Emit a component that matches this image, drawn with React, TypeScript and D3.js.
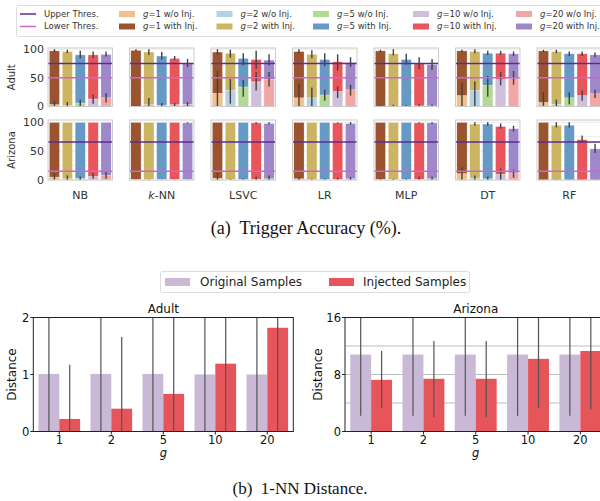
import * as d3 from "d3";

// categories
const models = ["NB", "k-NN", "LSVC", "LR", "MLP", "DT", "RF"];
const gValues = ["1", "2", "5", "10", "20"];

// Trigger accuracy (%) — Adult, with injection
const adultWith = [
  [97, 96, 90, 90, 91],
  [98, 95, 88, 84, 76],
  [95, 93, 84, 82, 81],
  [96, 91, 82, 78, 77],
  [97, 92, 82, 75, 73],
  [97, 96, 93, 93, 92],
  [97, 96, 92, 92, 90],
];
const adultWithLo = [
  [95, 93, 84, 84, 87],
  [96, 90, 82, 81, 69],
  [90, 85, 72, 66, 72],
  [93, 84, 70, 63, 69],
  [95, 89, 73, 65, 64],
  [95, 93, 90, 90, 88],
  [95, 93, 88, 88, 86],
];
const adultWithHi = [
  [100, 99, 97, 96, 96],
  [100, 100, 95, 88, 83],
  [100, 99, 93, 97, 91],
  [100, 98, 93, 91, 86],
  [99, 100, 92, 86, 83],
  [99, 100, 97, 97, 96],
  [99, 99, 96, 96, 94],
];
// Adult, without injection
const adultWo = [
  [3, 2, 6, 13, 15],
  [0.5, 3, 2, 3, 4],
  [23, 28, 34, 43, 47],
  [15, 15, 20, 26, 29],
  [0.5, 0.5, 0.5, 1, 1],
  [19, 28, 37, 47, 50],
  [7, 4, 15, 19, 22],
];
const adultWoLo = [
  [0, 0, 0, 5, 7],
  [0, 0, 0, 0, 0],
  [0, 5, 17, 28, 35],
  [0, 0, 10, 15, 19],
  [0, 0, 0, 0, 0],
  [0, 1, 17, 37, 38],
  [0, 0, 4, 10, 15],
];
const adultWoHi = [
  [10, 8, 12, 21, 23],
  [2, 15, 6, 6, 8],
  [62, 48, 46, 60, 60],
  [40, 33, 29, 35, 38],
  [2, 3, 2, 4, 3],
  [41, 44, 53, 60, 62],
  [25, 12, 25, 28, 29],
];

// Arizona, with injection
const arizonaWith = [
  [100, 100, 100, 100, 100],
  [100, 100, 100, 100, 99],
  [100, 100, 100, 99, 98],
  [100, 100, 100, 99, 98],
  [100, 100, 100, 99, 99],
  [100, 97, 97, 93, 89],
  [100, 95, 95, 70, 54],
];
const arizonaWithLo = [
  [100, 100, 100, 100, 100],
  [100, 100, 100, 100, 98],
  [100, 100, 100, 97, 96],
  [100, 100, 100, 98, 96],
  [100, 100, 100, 98, 97],
  [100, 94, 94, 89, 84],
  [100, 91, 91, 65, 47],
];
const arizonaWithHi = [
  [100, 100, 100, 100, 100],
  [100, 100, 100, 100, 100],
  [100, 100, 100, 100, 100],
  [100, 100, 100, 100, 100],
  [100, 100, 100, 100, 100],
  [100, 100, 100, 98, 94],
  [100, 100, 100, 77, 63],
];
// Arizona, without injection
const arizonaWo = [
  [5, 2, 3, 6, 8],
  [0.5, 0.5, 0.5, 0.5, 0.5],
  [3, 0.5, 0.5, 1, 2],
  [2, 0.5, 0.5, 1, 2],
  [0.5, 0.5, 0.5, 1, 2],
  [11, 3, 2, 10, 12],
  [0, 0, 0, 0, 0],
];
const arizonaWoLo = [
  [0, 0, 0, 2, 2],
  [0, 0, 0, 0, 0],
  [0, 0, 0, 0, 0],
  [0, 0, 0, 0, 0],
  [0, 0, 0, 0, 0],
  [0, 0, 0, 0, 4],
  [0, 0, 0, 0, 0],
];
const arizonaWoHi = [
  [12, 8, 6, 12, 14],
  [1, 1, 1, 1, 1],
  [12, 2, 2, 6, 8],
  [5, 2, 2, 4, 5],
  [2, 2, 2, 6, 6],
  [22, 8, 6, 20, 18],
  [1, 1, 1, 1, 1],
];

const adultThres = [75, 50];
const arizonaThres = [66, 15];

// 1-NN distance
const adultOrig = [1.01, 1.01, 1.01, 1.0, 1.0];
const adultOrigLo = [0, 0, 0, 0, 0];
const adultOrigHi = [3, 3, 3, 3, 3];
const adultInj = [0.22, 0.4, 0.66, 1.19, 1.82];
const adultInjLo = [0, 0, 0, 0, 0];
const adultInjHi = [1.17, 1.66, 3, 3, 3];

const arizonaOrig = [10.8, 10.8, 10.8, 10.8, 10.8];
const arizonaOrigLo = [2.2, 2.2, 2.2, 2.2, 2.2];
const arizonaOrigHi = [20, 20, 20, 20, 20];
const arizonaInj = [7.25, 7.4, 7.4, 10.2, 11.3];
const arizonaInjLo = [3.3, 2.0, 2.0, 3.3, 3.1];
const arizonaInjHi = [11.3, 12.7, 12.7, 20, 20];

const withColors = ["#9c5430", "#cbb462", "#6699c4", "#e8555a", "#9e88c9"];
const woColors = ["#f1c18c", "#b4d2e4", "#b3da93", "#cfbfdb", "#f2a7a7"];
const upperColor = "#5b2c92";
const lowerColor = "#cc66cc";
const origColor = "#c9b8d6";
const injColor = "#e6555a";

const sans = "DejaVu Sans";
const serif = "Liberation Serif";

const panelX0 = 48;
const panelStep = 81.5;
const panelW = 64.5;

type RowProps = {
  label: string;
  y: d3.ScaleLinear<number, number>;
  w: number[][];
  wLo: number[][];
  wHi: number[][];
  o: number[][];
  oLo: number[][];
  oHi: number[][];
  thres: number[];
  showModels: boolean;
};

const AccRow = ({ label, y, w, wLo, wHi, o, oLo, oHi, thres, showModels }: RowProps) => {
  const [y0, y1] = y.range();
  return (
    <g>
      <text
        transform={`translate(15,${(y0 + y1) / 2}) rotate(-90)`}
        textAnchor="middle"
        fontSize={10}
        fontFamily={sans}
        fill="#333"
      >
        {label}
      </text>
      {[0, 50, 100].map((t) => (
        <text key={t} x={44} y={y(t)} dy="0.35em" textAnchor="end" fontSize={11} fontFamily={sans} fill="#333">
          {t}
        </text>
      ))}
      {models.map((m, mi) => {
        const px = panelX0 + mi * panelStep;
        const x = d3.scaleBand<string>().domain(gValues).range([px, px + panelW]).paddingInner(0.2).paddingOuter(0.1);
        const bw = x.bandwidth();
        return (
          <g key={m}>
            {[0, 25, 50, 75, 100].map((t) => (
              <line key={t} x1={px} x2={px + panelW} y1={y(t)} y2={y(t)} stroke="#e4e4e4" strokeWidth={0.8} />
            ))}
            {gValues.map((g, gi) => (
              <rect
                key={"w" + g}
                x={x(g)}
                y={y(w[mi][gi])}
                width={bw}
                height={y(0) - y(w[mi][gi])}
                fill={withColors[gi]}
                stroke="#fff"
                strokeWidth={0.4}
              />
            ))}
            {gValues.map((g, gi) => (
              <line
                key={"we" + g}
                x1={x(g)! + bw / 2}
                x2={x(g)! + bw / 2}
                y1={y(wLo[mi][gi])}
                y2={y(wHi[mi][gi])}
                stroke="#424242"
                strokeWidth={1.4}
              />
            ))}
            {gValues.map((g, gi) => (
              <rect
                key={"o" + g}
                x={x(g)}
                y={y(o[mi][gi])}
                width={bw}
                height={y(0) - y(o[mi][gi])}
                fill={woColors[gi]}
                stroke="#fff"
                strokeWidth={0.4}
              />
            ))}
            {gValues.map((g, gi) => (
              <line
                key={"oe" + g}
                x1={x(g)! + bw / 2}
                x2={x(g)! + bw / 2}
                y1={y(oLo[mi][gi])}
                y2={y(oHi[mi][gi])}
                stroke="#424242"
                strokeWidth={1.4}
              />
            ))}
            <line x1={px} x2={px + panelW} y1={y(thres[0])} y2={y(thres[0])} stroke={upperColor} strokeWidth={1.5} />
            <line x1={px} x2={px + panelW} y1={y(thres[1])} y2={y(thres[1])} stroke={lowerColor} strokeWidth={1.5} />
            <rect x={px} y={y1} width={panelW} height={y0 - y1} fill="none" stroke="#cccccc" strokeWidth={1} />
            {showModels && (
              <text x={px + panelW / 2} y={y0 + 15} dy="0.35em" textAnchor="middle" fontSize={11} fontFamily={sans} fill="#333">
                {m === "k-NN" ? (
                  <>
                    <tspan fontStyle="italic">k</tspan>-NN
                  </>
                ) : (
                  m
                )}
              </text>
            )}
          </g>
        );
      })}
    </g>
  );
};

type DistProps = {
  id: string;
  title: string;
  left: number;
  right: number;
  yMax: number;
  ticks: number[];
  grid: number[];
  orig: number[];
  origLo: number[];
  origHi: number[];
  inj: number[];
  injLo: number[];
  injHi: number[];
  labelX: number;
};

const DistPanel = (p: DistProps) => {
  const top = 317.5;
  const bottom = 431.5;
  const x = d3.scaleBand<string>().domain(gValues).range([p.left, p.right]).paddingInner(0.2).paddingOuter(0.1);
  const sub = d3.scaleBand<string>().domain(["orig", "inj"]).range([0, x.bandwidth()]);
  const y = d3.scaleLinear().domain([0, p.yMax]).range([bottom, top]);
  const bw = sub.bandwidth();
  return (
    <g>
      <defs>
        <clipPath id={p.id}>
          <rect x={p.left} y={top} width={p.right - p.left} height={bottom - top} />
        </clipPath>
      </defs>
      <text x={(p.left + p.right) / 2} y={top - 5} textAnchor="middle" fontSize={12} fontFamily={sans} fill="#111">
        {p.title}
      </text>
      {p.grid.map((t) => (
        <line key={t} x1={p.left} x2={p.right} y1={y(t)} y2={y(t)} stroke="#bdbdbd" strokeWidth={1} />
      ))}
      <g clipPath={`url(#${p.id})`}>
        {gValues.map((g, i) => (
          <g key={g}>
            <rect x={x(g)! + sub("orig")!} y={y(p.orig[i])} width={bw} height={bottom - y(p.orig[i])} fill={origColor} />
            <rect x={x(g)! + sub("inj")!} y={y(p.inj[i])} width={bw} height={bottom - y(p.inj[i])} fill={injColor} />
            <line
              x1={x(g)! + sub("orig")! + bw / 2}
              x2={x(g)! + sub("orig")! + bw / 2}
              y1={y(p.origLo[i])}
              y2={y(p.origHi[i])}
              stroke="#555"
              strokeWidth={1.2}
            />
            <line
              x1={x(g)! + sub("inj")! + bw / 2}
              x2={x(g)! + sub("inj")! + bw / 2}
              y1={y(p.injLo[i])}
              y2={y(p.injHi[i])}
              stroke="#555"
              strokeWidth={1.2}
            />
          </g>
        ))}
      </g>
      <rect x={p.left} y={top} width={p.right - p.left} height={bottom - top} fill="none" stroke="#222" strokeWidth={1} />
      {p.ticks.map((t) => (
        <g key={t}>
          <line x1={p.left - 3} x2={p.left} y1={y(t)} y2={y(t)} stroke="#222" />
          <text x={p.left - 4} y={y(t)} dy="0.35em" textAnchor="end" fontSize={11.5} fontFamily={sans} fill="#111">
            {t}
          </text>
        </g>
      ))}
      {gValues.map((g) => (
        <g key={g}>
          <line x1={x(g)! + x.bandwidth() / 2} x2={x(g)! + x.bandwidth() / 2} y1={bottom} y2={bottom + 3} stroke="#222" />
          <text x={x(g)! + x.bandwidth() / 2} y={bottom + 12.5} textAnchor="middle" fontSize={11.5} fontFamily={sans} fill="#111">
            {g}
          </text>
        </g>
      ))}
      <text x={(p.left + p.right) / 2} y={bottom + 25} textAnchor="middle" fontSize={11.5} fontStyle="italic" fontFamily={sans} fill="#111">
        g
      </text>
      <text
        transform={`translate(${p.labelX},${(top + bottom) / 2}) rotate(-90)`}
        textAnchor="middle"
        dy="0.35em"
        fontSize={12}
        fontFamily={sans}
        fill="#111"
      >
        Distance
      </text>
    </g>
  );
};

const legendCols = [20, 119, 216.5, 313, 413, 516];

const TopLegend = () => {
  const rows = [14, 26.5];
  const item = (col: number, row: number, color: string, isLine: boolean, content: any, key: string) => (
    <g key={key}>
      {isLine ? (
        <line x1={legendCols[col]} x2={legendCols[col] + 16} y1={rows[row]} y2={rows[row]} stroke={color} strokeWidth={1.5} />
      ) : (
        <rect x={legendCols[col]} y={rows[row] - 3} width={16} height={6} fill={color} />
      )}
      <text x={legendCols[col] + 24} y={rows[row]} dy="0.35em" fontSize={8.5} fontFamily={sans} fill="#333">
        {content}
      </text>
    </g>
  );
  const gLabel = (g: string, kind: string) => (
    <>
      <tspan fontStyle="italic">g</tspan>={g} {kind}
    </>
  );
  return (
    <g>
      <rect x={16.5} y={5.5} width={600} height={31} rx={2} fill="#fff" stroke="#dcdcdc" strokeWidth={1} />
      {item(0, 0, upperColor, true, "Upper Thres.", "u")}
      {item(0, 1, lowerColor, true, "Lower Thres.", "l")}
      {gValues.map((g, i) => item(i + 1, 0, woColors[i], false, gLabel(g, "w/o Inj."), "o" + g))}
      {gValues.map((g, i) => item(i + 1, 1, withColors[i], false, gLabel(g, "with Inj."), "w" + g))}
    </g>
  );
};

const BottomLegend = () => (
  <g>
    <rect x={160.5} y={271.5} width={309} height={21} rx={2} fill="#fff" stroke="#dcdcdc" strokeWidth={1} />
    <rect x={165} y={278} width={25} height={8} fill={origColor} />
    <text x={200} y={282} dy="0.35em" fontSize={12} fontFamily={sans} fill="#222">
      Original Samples
    </text>
    <rect x={329} y={278} width={25} height={8} fill={injColor} />
    <text x={363} y={282} dy="0.35em" fontSize={12} fontFamily={sans} fill="#222">
      Injected Samples
    </text>
  </g>
);

export default function App() {
  const yAdult = d3.scaleLinear().domain([0, 102]).range([106.5, 48]);
  const yArizona = d3.scaleLinear().domain([0, 104]).range([180, 120]);
  return (
    <div style={{ position: "absolute", left: 0, top: 0 }}>
      <svg width={600} height={501} style={{ display: "block", background: "#fff" }}>
        <TopLegend />
        <AccRow label="Adult" y={yAdult} w={adultWith} wLo={adultWithLo} wHi={adultWithHi} o={adultWo} oLo={adultWoLo} oHi={adultWoHi} thres={adultThres} showModels={false} />
        <AccRow label="Arizona" y={yArizona} w={arizonaWith} wLo={arizonaWithLo} wHi={arizonaWithHi} o={arizonaWo} oLo={arizonaWoLo} oHi={arizonaWoHi} thres={arizonaThres} showModels={true} />
        <text x={306} y={234} textAnchor="middle" fontSize={18} fontFamily={serif} fill="#111" xmlSpace="preserve">
          (a)  Trigger Accuracy (%).
        </text>
        <BottomLegend />
        <DistPanel
          id="clipAdult"
          title="Adult"
          left={33.3}
          right={293.3}
          yMax={2}
          ticks={[0, 1, 2]}
          grid={[]}
          orig={adultOrig}
          origLo={adultOrigLo}
          origHi={adultOrigHi}
          inj={adultInj}
          injLo={adultInjLo}
          injHi={adultInjHi}
          labelX={12}
        />
        <DistPanel
          id="clipArizona"
          title="Arizona"
          left={345}
          right={606.5}
          yMax={16}
          ticks={[0, 8, 16]}
          grid={[4, 8, 12]}
          orig={arizonaOrig}
          origLo={arizonaOrigLo}
          origHi={arizonaOrigHi}
          inj={arizonaInj}
          injLo={arizonaInjLo}
          injHi={arizonaInjHi}
          labelX={318}
        />
        <text x={300} y={494} textAnchor="middle" fontSize={17} fontFamily={serif} fill="#111" xmlSpace="preserve">
          (b)  1-NN Distance.
        </text>
      </svg>
    </div>
  );
}
